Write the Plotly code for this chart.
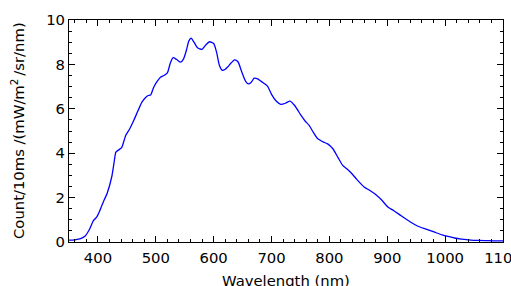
import plotly.graph_objects as go

wavelength = [350, 360, 370, 378, 385, 392, 398, 403, 410, 416, 424, 428, 431, 436, 441, 448, 455, 462, 469, 476, 482, 487, 491, 496, 502, 508, 514, 520, 525, 530, 536, 543, 548, 553, 557, 561, 566, 572, 580, 587, 593, 600, 605, 610, 615, 620, 624, 630, 636, 642, 648, 655, 660, 665, 670, 676, 685, 693, 700, 708, 716, 724, 732, 740, 751, 758, 765, 772, 780, 790, 797, 806, 815, 823, 830, 837, 848, 860, 870, 881, 890, 901, 912, 924, 940, 953, 967, 982, 995, 1005, 1016, 1028, 1040, 1057, 1075, 1091, 1100]
counts = [0.08, 0.1, 0.15, 0.27, 0.55, 0.95, 1.13, 1.4, 1.85, 2.2, 2.95, 3.6, 4.05, 4.15, 4.25, 4.8, 5.1, 5.48, 5.9, 6.3, 6.5, 6.6, 6.62, 6.95, 7.22, 7.42, 7.5, 7.62, 8.05, 8.3, 8.22, 8.1, 8.25, 8.65, 9.05, 9.18, 9.0, 8.75, 8.68, 8.9, 9.02, 8.94, 8.55, 7.95, 7.73, 7.78, 7.88, 8.06, 8.2, 8.12, 7.7, 7.25, 7.12, 7.2, 7.38, 7.35, 7.18, 7.02, 6.65, 6.35, 6.2, 6.25, 6.35, 6.15, 5.7, 5.45, 5.25, 4.95, 4.65, 4.5, 4.42, 4.2, 3.8, 3.45, 3.3, 3.13, 2.8, 2.48, 2.32, 2.12, 1.9, 1.58, 1.4, 1.18, 0.9, 0.71, 0.58, 0.44, 0.32, 0.25, 0.18, 0.13, 0.1, 0.07, 0.06, 0.05, 0.05]

x_title = "Wavelength (nm)"
y_title = "Count/10ms /(mW/m<sup>2</sup>\u2009/sr/nm)"

fig = go.Figure()
fig.add_trace(go.Scatter(
    x=wavelength, y=counts, mode="lines",
    line=dict(color="#0000ff", width=1.3, shape="spline", smoothing=0.6),
    showlegend=False, hoverinfo="skip"))

font = dict(family="DejaVu Sans", size=14.8, color="black")
fig.update_layout(
    width=511, height=286,
    margin=dict(l=69, r=8, t=20, b=44, autoexpand=False),
    paper_bgcolor="white", plot_bgcolor="white",
    font=font,
    xaxis=dict(
        range=[350, 1100], tickmode="linear", tick0=400, dtick=100,
        ticks="inside", ticklen=6, tickwidth=1, tickcolor="black",
        showline=True, linecolor="black", linewidth=1, mirror="ticks",
        showgrid=False, zeroline=False, automargin=False,
        ticklabeloverflow="allow", ticklabelstandoff=2,
        minor=dict(ticks="inside", ticklen=3, tickwidth=1, tickcolor="black", dtick=20, tick0=400, showgrid=False),
        tickfont=font,
    ),
    yaxis=dict(
        range=[0, 10], tickmode="linear", tick0=0, dtick=2,
        ticks="inside", ticklen=6, tickwidth=1, tickcolor="black",
        showline=True, linecolor="black", linewidth=1, mirror="ticks",
        showgrid=False, zeroline=False, automargin=False,
        ticklabeloverflow="allow",
        minor=dict(ticks="inside", ticklen=3, tickwidth=1, tickcolor="black", dtick=0.5, showgrid=False),
        tickfont=font,
    ),
    annotations=[
        dict(text=x_title, xref="paper", yref="paper", x=0.5, y=0,
             xanchor="center", yanchor="middle", yshift=-38, showarrow=False, font=font),
        dict(text=y_title, xref="paper", yref="paper", x=0, y=0.5, textangle=-90,
             xanchor="center", yanchor="middle", xshift=-52, showarrow=False, font=font),
    ],
)

# Remove the default 8px page margin so the 511x286 figure fills the window exactly.
fig.write_html(
    "out.html",
    config={"displayModeBar": False, "staticPlot": True},
    post_script="document.body.style.margin='0';document.body.style.overflow='hidden';",
)
